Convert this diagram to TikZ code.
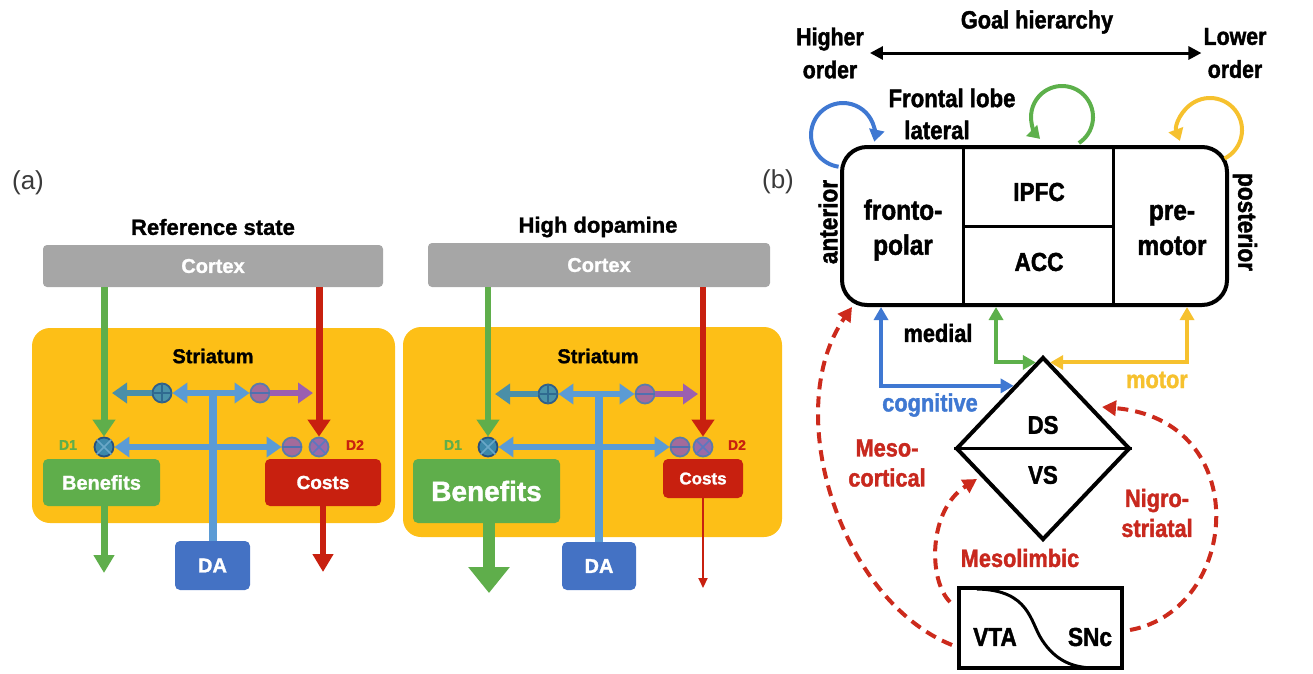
\documentclass[tikz,border=0pt]{standalone}
\usepackage{fontspec}
\setmainfont{Liberation Sans}
\newfontfamily\hvy[FakeBold=1.3]{Liberation Sans}
\newfontfamily\cnd[FakeStretch=0.87,FakeBold=1.6]{Liberation Sans}
\usetikzlibrary{arrows.meta,shapes.geometric,calc}
\newcommand{\myfs}[1]{\fontsize{#1}{#1}\selectfont}
\newcommand{\myfsl}[2]{\fontsize{#1}{#2}\selectfont}
\definecolor{yel}{HTML}{FDBF17}
\definecolor{gry}{HTML}{A6A6A6}
\definecolor{grn}{HTML}{5FAE4B}
\definecolor{rd}{HTML}{C8200F}
\definecolor{dab}{HTML}{4472C4}
\definecolor{lb}{HTML}{5B9BD5}
\definecolor{tealar}{HTML}{4A8FA8}
\definecolor{purp}{HTML}{9B5FB0}
\definecolor{plusf}{HTML}{4A92A8}
\definecolor{plusd}{HTML}{2F5E8A}
\definecolor{plusl}{HTML}{2F6A90}
\definecolor{minf}{HTML}{A36B9B}
\definecolor{mind}{HTML}{5B7BAA}
\definecolor{minl}{HTML}{4F70B0}
\definecolor{xaf}{HTML}{3C88AA}
\definecolor{xad}{HTML}{27507E}
\definecolor{xal}{HTML}{6AA8C8}
\definecolor{xbf}{HTML}{9A6BA8}
\definecolor{xbd}{HTML}{5B7BAA}
\definecolor{xbl}{HTML}{5A78C0}
\definecolor{bblue}{HTML}{3F78D2}
\definecolor{bgreen}{HTML}{5DB04B}
\definecolor{byel}{HTML}{F6C12E}
\definecolor{btxt}{HTML}{C8281E}
\definecolor{rdash}{HTML}{CC2A1C}
\definecolor{labg}{HTML}{3A3A3A}
\newcommand{\plusmark}[1]{\draw[line width=1.4pt,draw=plusl] (#1.north)--(#1.south) (#1.west)--(#1.east);}
\newcommand{\minusmark}[1]{\draw[line width=2pt,draw=minl] (#1.west)--(#1.east);}
\newcommand{\timesmark}[2]{\draw[line width=1.6pt,draw=#2] (#1.north west)--(#1.south east) (#1.north east)--(#1.south west);}
\begin{document}
\begin{tikzpicture}[x=1pt,y=-1pt,
  lbl/.style={inner sep=0pt},
  fa/.style={font=\hvy\bfseries\myfs{#1}},
  fb/.style={font=\cnd\bfseries\myfs{#1}},
  stri/.style={fill=yel, rounded corners=18pt, inner sep=0pt},
  ctx/.style={fill=gry, rounded corners=4pt, inner sep=0pt, text=white, font=\hvy\bfseries\myfs{20}},
  sbox/.style={rounded corners=5pt, inner sep=0pt, text=white},
  sym/.style={circle, minimum size=19pt, inner sep=0pt, line width=1.8pt},
  symp/.style={sym, fill=plusf, draw=plusd},
  symm/.style={sym, fill=minf, draw=mind},
  dbl/.style={arrows={Triangle[width=20pt,length=15pt]-Triangle[width=20pt,length=15pt]}},
  sgl/.style={-{Triangle[width=20pt,length=15pt]}},
  cortarr/.style={line width=7pt, -{Triangle[width=22pt,length=17pt]}},
  bdbl/.style={line width=4pt, arrows={Triangle[width=14pt,length=13pt]-Triangle[width=14pt,length=13pt]}},
  loop/.style={line width=4pt, -{Triangle[width=15pt,length=12pt]}},
  rdashed/.style={draw=rdash, line width=4pt, dash pattern=on 11pt off 7pt, -{Triangle[width=15pt,length=14pt]}},
  thickbox/.style={draw, line width=4pt, inner sep=0pt}
]
\useasboundingbox (0,0) rectangle (1313,673);

% ================= panel (a) =================
\node[lbl, font=\myfs{26}, text=labg] (laba) at (28,183) {(a)};

% ---- reference state ----
\node[stri, minimum width=363pt, minimum height=195pt] (st1) at (213.5,425.5) {};
\node[lbl, fa=22] (t1) at (213,227) {Reference state};
\node[ctx, minimum width=340pt, minimum height=42pt] (cx1) at (213,266) {Cortex};
\node[lbl, fa=20] (s1) at (213,356) {Striatum};
\node[symp] (p1) at (162,393) {};
\node[symm] (m1) at (260,393) {};
\node[sym, fill=xaf, draw=xad] (xa1) at (104,447) {};
\node[symm] (mb1) at (292,447) {};
\node[sym, fill=xbf, draw=xbd] (xb1) at (319,447) {};
\node[sbox, fill=grn, fa=20, minimum width=117pt, minimum height=47pt] (b1) at (101.5,482.5) {Benefits};
\node[sbox, fill=rd, fa=19, minimum width=116pt, minimum height=47pt] (c1) at (323,482.5) {Costs};
\node[sbox, fill=dab, fa=20, minimum width=75pt, minimum height=49pt] (da1) at (212.5,565.5) {DA};
\node[lbl, fa=14, text=grn] (d1a) at (68,445) {D1};
\node[lbl, fa=14, text=rd] (d2a) at (355,445) {D2};

\draw[grn, cortarr] (cx1.south -| xa1) -- (xa1.north);
\draw[rd, cortarr] (cx1.south -| xb1) -- (xb1.north);
\draw[lb, line width=8pt] (da1.north) -- ([yshift=3pt]da1.north |- p1);
\draw[lb, line width=6pt, dbl] (p1.east) -- (m1.west);
\coordinate (te1) at (112,393);
\coordinate (pe1) at (313,393);
\draw[tealar, line width=6pt, sgl] (p1.west) -- (te1);
\draw[purp, line width=6pt, sgl] (m1.east) -- (pe1);
\draw[lb, line width=6pt, dbl] (xa1.east) -- (mb1.west);
\coordinate (go1) at (104,573);
\coordinate (ro1) at (323,572);
\draw[grn, line width=7pt, -{Triangle[width=20pt,length=18pt]}] (b1.south -| go1) -- (go1);
\draw[rd, line width=6pt, -{Triangle[width=20pt,length=18pt]}] (c1.south -| ro1) -- (ro1);
\plusmark{p1}
\minusmark{m1}
\minusmark{mb1}
\timesmark{xa1}{xal}
\timesmark{xb1}{xbl}

% ---- high dopamine ----
\node[stri, minimum width=379pt, minimum height=210pt] (st2) at (592.5,432) {};
\node[lbl, fa=22] (t2) at (598,227) {High dopamine};
\node[ctx, minimum width=342pt, minimum height=44pt] (cx2) at (599,265) {Cortex};
\node[lbl, fa=20] (s2) at (598,356) {Striatum};
\node[symp] (p2) at (548,394) {};
\node[symm] (m2) at (645,394) {};
\node[sym, fill=xaf, draw=xad] (xa2) at (488,447) {};
\node[symm] (mb2) at (680,447) {};
\node[sym, fill=xbf, draw=xbd] (xb2) at (703,447) {};
\node[sbox, fill=grn, fa=28, minimum width=147pt, minimum height=64pt] (b2) at (486.5,491) {Benefits};
\node[sbox, fill=rd, fa=17, minimum width=80pt, minimum height=39pt] (c2) at (703,478.5) {Costs};
\node[sbox, fill=dab, fa=20, minimum width=74pt, minimum height=48pt] (da2) at (599,566) {DA};
\node[lbl, fa=14, text=grn] (d1b) at (453,445) {D1};
\node[lbl, fa=14, text=rd] (d2b) at (737,445) {D2};

\draw[grn, line width=6pt, -{Triangle[width=22pt,length=17pt]}] (cx2.south -| xa2) -- (xa2.north);
\draw[rd, line width=6pt, -{Triangle[width=22pt,length=17pt]}] (cx2.south -| xb2) -- (xb2.north);
\draw[lb, line width=8pt] (da2.north) -- ([yshift=3pt]da2.north |- p2);
\draw[lb, line width=6pt, dbl] (p2.east) -- (m2.west);
\coordinate (te2) at (495,394);
\coordinate (pe2) at (698,394);
\draw[tealar, line width=6pt, sgl] (p2.west) -- (te2);
\draw[purp, line width=6pt, sgl] (m2.east) -- (pe2);
\draw[lb, line width=6pt, dbl] (xa2.east) -- (mb2.west);
\coordinate (go2) at (489,593);
\coordinate (ro2) at (703,588);
\draw[grn, line width=12pt, -{Triangle[width=40pt,length=26pt]}] (b2.south -| go2) -- (go2);
\draw[rd, line width=2pt, -{Triangle[width=9pt,length=10pt]}] (c2.south -| ro2) -- (ro2);
\plusmark{p2}
\minusmark{m2}
\minusmark{mb2}
\timesmark{xa2}{xal}
\timesmark{xb2}{xbl}

% ================= panel (b) =================
\node[lbl, font=\myfs{26}, text=labg] (labb) at (778,182) {(b)};
\node[lbl, fb=25] (gh) at (1037,22) {Goal hierarchy};
\node[lbl, align=center, font=\cnd\bfseries\myfsl{24.5}{33}] (ho) at (830,53) {Higher\\order};
\node[lbl, align=center, font=\cnd\bfseries\myfsl{24.5}{33}] (lo) at (1235,53) {Lower\\order};
\draw[line width=3pt, arrows={Triangle[width=13pt,length=13pt]-Triangle[width=13pt,length=13pt]}] ([xshift=6pt]ho.east) -- ([xshift=-2pt]lo.west);
\node[lbl, fb=25.5] (fr1) at (952,98) {Frontal lobe};
\node[lbl, fb=25.5] (fr2) at (937,130) {lateral};

\node[thickbox, rounded corners=25pt, minimum width=385pt, minimum height=158pt] (fl) at (1034.5,226) {};
\draw[line width=3pt] ([xshift=123pt]fl.north west) -- ([xshift=123pt]fl.south west);
\draw[line width=3pt] ([xshift=273pt]fl.north west) -- ([xshift=273pt]fl.south west);
\draw[line width=3pt] ($([xshift=123pt]fl.north west)!0.5!([xshift=123pt]fl.south west)$) -- ($([xshift=273pt]fl.north west)!0.5!([xshift=273pt]fl.south west)$);
\node[lbl, align=center, font=\cnd\bfseries\myfsl{28}{35}] (fp) at (903,230) {fronto-\\polar};
\node[lbl, fb=26] (ipfc) at (1039,192) {IPFC};
\node[lbl, fb=26] (acc) at (1039,262) {ACC};
\node[lbl, align=center, font=\cnd\bfseries\myfsl{28}{35}] (pm) at (1172,230) {pre-\\motor};
\node[lbl, fb=26, rotate=90] (ant) at (828,222) {anterior};
\node[lbl, fb=26, rotate=-90] (post) at (1245,222) {posterior};

% loops
\coordinate (cb) at (843,135);
\coordinate (cg) at (1062,117);
\coordinate (cy) at (1210,130);
\draw[bblue, loop] ($(cb)+(262:32pt)$) arc[start angle=262, end angle=-12, radius=32pt];
\draw[bgreen, loop] ($(cg)+(-57:31pt)$) arc[start angle=-57, end angle=225, radius=31pt];
\draw[byel, loop] ($(cy)+(-63:32pt)$) arc[start angle=-63, end angle=200, radius=32pt];

% striatum diamond
\node[diamond, draw, line width=4pt, minimum width=174pt, minimum height=183pt, inner sep=0pt] (dia) at (1043,448.5) {};
\draw[line width=3pt] (dia.west) -- (dia.east);
\node[lbl, fb=25.5] (ds) at (1043,425) {DS};
\node[lbl, fb=25.5] (vs) at (1043,475) {VS};

\draw[bblue, bdbl] ([xshift=41pt]fl.south west) |- ($(dia.north)!0.33!(dia.west)$);
\draw[bgreen, bdbl] ([xshift=156pt]fl.south west) |- ($(dia.north)!0.08!(dia.west)$);
\draw[byel, bdbl] ([xshift=-42pt]fl.south east) |- ($(dia.north)!0.08!(dia.east)$);
\node[lbl, fb=25] (med) at (938,333) {medial};
\node[lbl, fb=25, text=bblue] (cog) at (930,405) {cognitive};
\node[lbl, fb=25, text=byel] (mot) at (1157,380) {motor};

% VTA / SNc
\node[thickbox, minimum width=163pt, minimum height=80pt] (vta) at (1040.5,628) {};
\draw[line width=3pt] (977,589) .. controls (1030,590) and (1030,622) .. (1042,640) .. controls (1055,660) and (1072,668) .. (1095,668);
\node[lbl, fb=26] (vtat) at (995,637) {VTA};
\node[lbl, fb=26] (snct) at (1090,637) {SNc};

% dopamine pathways
\coordinate (mc0) at (952,645);
\coordinate (mc1) at (852,307);
\coordinate (ml0) at (950,602);
\coordinate (ml1) at (977,479);
\coordinate (ns0) at (1130,630);
\coordinate (ns1) at (1102,407);
\draw[rdashed] (mc0) .. controls (840,600) and (780,410) .. (mc1);
\draw[rdashed] (ml0) .. controls (928,580) and (928,510) .. (ml1);
\draw[rdashed] (ns0) .. controls (1240,610) and (1255,420) .. (ns1);
\node[lbl, align=center, text=btxt, font=\cnd\bfseries\myfsl{25}{30}] (mcl) at (887,463) {Meso-\\cortical};
\node[lbl, fb=25, text=btxt] (mll) at (1020,558) {Mesolimbic};
\node[lbl, align=center, text=btxt, font=\cnd\bfseries\myfsl{25}{30}] (nsl) at (1157,513) {Nigro-\\striatal};
\end{tikzpicture}
\end{document}
